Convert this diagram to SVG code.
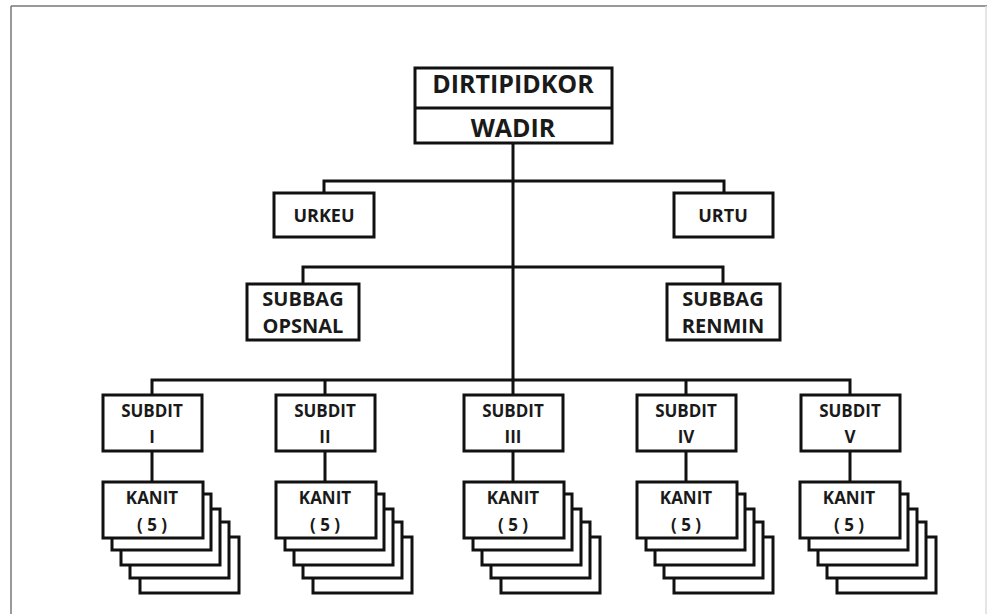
<svg xmlns="http://www.w3.org/2000/svg" width="987" height="614" viewBox="0 0 987 614">
<style>
.box{fill:#fff;stroke:#111;stroke-width:3}
.ln{fill:none;stroke:#111;stroke-width:3}
.t{font-family:"Open Sans","Liberation Sans",sans-serif;font-weight:700;fill:#1a1a1a;text-anchor:middle}
.big{font-size:25px}
.mid{font-size:20px}
.u{font-size:18px}
.sm{font-size:17px}
.k{font-size:17px}
</style>
<rect x="0" y="0" width="987" height="614" fill="#fff"/>
<g id="frame">
<line x1="11" y1="6" x2="987" y2="6" stroke="#777" stroke-width="1.5"/>
<line x1="11" y1="6" x2="11" y2="614" stroke="#777" stroke-width="1.5"/>
<line x1="986" y1="6" x2="986" y2="614" stroke="#ddd" stroke-width="1.5"/>
</g>
<g id="connectors">
<path class="ln" d="M513 143V380"/>
<path class="ln" d="M324 193V181H724V193"/>
<path class="ln" d="M303 284V267H723V284"/>
<path class="ln" d="M152 395V380H850V395M325 380V395M513 380V395M686 380V395"/>
<path class="ln" d="M152 451V482M325 451V482M513 451V482M686 451V482M850 451V482"/>
</g>
<g id="dirtipidkor">
<rect class="box" x="415" y="68" width="197" height="75"/>
<line class="ln" x1="415" y1="108" x2="612" y2="108"/>
<text class="t big" x="513" y="93">DIRTIPIDKOR</text>
<text class="t big" x="513" y="137">WADIR</text>
</g>
<g id="urkeu">
<rect class="box" x="274" y="193" width="100" height="44"/>
<text class="t u" x="324" y="222">URKEU</text>
</g>
<g id="urtu">
<rect class="box" x="674" y="193" width="99" height="44"/>
<text class="t u" x="723" y="222">URTU</text>
</g>
<g id="subbag-opsnal">
<rect class="box" x="247" y="284" width="112" height="56"/>
<text class="t mid" x="303" y="306">SUBBAG</text>
<text class="t mid" x="303" y="333">OPSNAL</text>
</g>
<g id="subbag-renmin">
<rect class="box" x="667" y="284" width="113" height="56"/>
<text class="t mid" x="723" y="306">SUBBAG</text>
<text class="t mid" x="723" y="333">RENMIN</text>
</g>
<g id="subdit-1">
<rect class="box" x="103" y="395" width="99" height="56"/>
<text class="t sm" x="152" y="417">SUBDIT</text>
<text class="t sm" x="152" y="443">I</text>
</g>
<g id="subdit-2">
<rect class="box" x="276" y="395" width="99" height="56"/>
<text class="t sm" x="325" y="417">SUBDIT</text>
<text class="t sm" x="325" y="443">II</text>
</g>
<g id="subdit-3">
<rect class="box" x="464" y="395" width="99" height="56"/>
<text class="t sm" x="513" y="417">SUBDIT</text>
<text class="t sm" x="513" y="443">III</text>
</g>
<g id="subdit-4">
<rect class="box" x="637" y="395" width="99" height="56"/>
<text class="t sm" x="686" y="417">SUBDIT</text>
<text class="t sm" x="686" y="443">IV</text>
</g>
<g id="subdit-5">
<rect class="box" x="801" y="395" width="99" height="56"/>
<text class="t sm" x="850" y="417">SUBDIT</text>
<text class="t sm" x="850" y="443">V</text>
</g>
<defs>
<g id="stack">
<rect class="box" x="37" y="55" width="99" height="56"/>
<rect class="box" x="27" y="40" width="99" height="56"/>
<rect class="box" x="18" y="27" width="99" height="56"/>
<rect class="box" x="9" y="12" width="99" height="56"/>
<rect class="box" x="0" y="0" width="100" height="56"/>
</g>
</defs>
<g id="kanit-1">
<use href="#stack" x="103" y="482"/>
<text class="t k" x="152" y="504">KANIT</text>
<text class="t k" x="152" y="531">( 5 )</text>
</g>
<g id="kanit-2">
<use href="#stack" x="276" y="482"/>
<text class="t k" x="325" y="504">KANIT</text>
<text class="t k" x="325" y="531">( 5 )</text>
</g>
<g id="kanit-3">
<use href="#stack" x="464" y="482"/>
<text class="t k" x="513" y="504">KANIT</text>
<text class="t k" x="513" y="531">( 5 )</text>
</g>
<g id="kanit-4">
<use href="#stack" x="637" y="482"/>
<text class="t k" x="686" y="504">KANIT</text>
<text class="t k" x="686" y="531">( 5 )</text>
</g>
<g id="kanit-5">
<use href="#stack" x="800" y="482"/>
<text class="t k" x="849" y="504">KANIT</text>
<text class="t k" x="849" y="531">( 5 )</text>
</g>
</svg>
